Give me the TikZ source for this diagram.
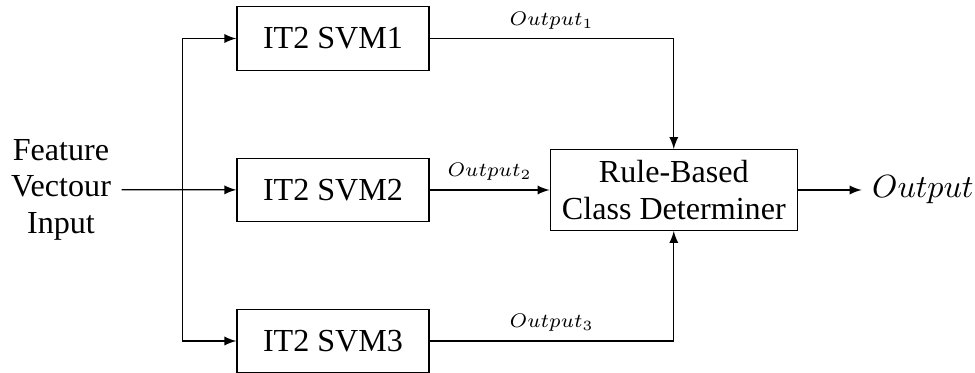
\documentclass[tikz,border=0pt]{standalone}
\usepackage{fix-cm}
\usepackage[no-math]{fontspec}
\setmainfont{Liberation Serif}
\begin{document}
\begin{tikzpicture}[x=1pt,y=1pt,>=latex,
  every node/.style={font=\fontsize{10.7}{12.2}\selectfont},
  blk/.style={draw,minimum width=64pt,minimum height=21.2pt,inner sep=0pt},
  rulebox/.style={draw,minimum width=82.44pt,minimum height=26.9pt,inner sep=0pt,align=center},
  lbl/.style={font=\fontsize{7}{8}\selectfont,scale=0.94,anchor=base,yshift=4.7pt,inner sep=0pt}]
\useasboundingbox (0,0) rectangle (325,124.33);
\node[align=center] (in) at (20.33,61.1) {Feature\\Vectour\\Input};
\node[blk] (s1) at (111,111.5) {IT2 SVM1};
\node[blk] (s2) at (111,61.0) {IT2 SVM2};
\node[blk] (s3) at (111,10.67) {IT2 SVM3};
\node[rulebox] (rb) at (224.6,61.0) {Rule-Based\\Class Determiner};
\node[anchor=west] (out) at (287.2,61.0) {$Output$};
\coordinate (br) at (60.77,61.0);
\draw[->] (in.east) -- (s2);
\draw[->] (br) |- (s1);
\draw[->] (br) |- (s3);
\draw[->] (s1) -| node[lbl,pos=0.25] {$Output_1$} (rb);
\draw[->] (s2) -- node[lbl] {$Output_2$} (rb);
\draw[->] (s3) -| node[lbl,pos=0.25] {$Output_3$} (rb);
\draw[->] (rb) -- (out);
\end{tikzpicture}
\end{document}
